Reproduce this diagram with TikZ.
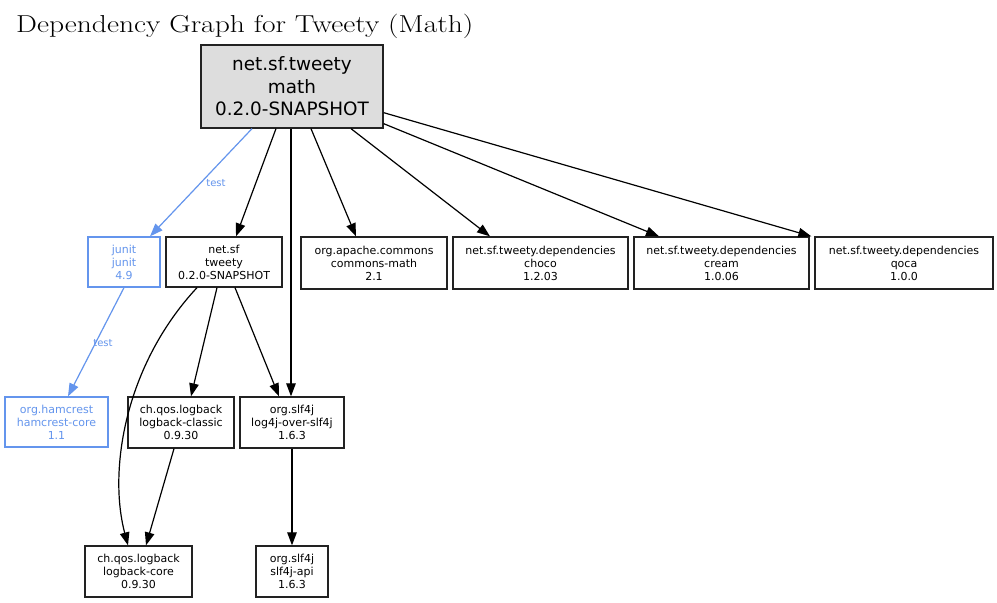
\documentclass[tikz,border=0pt]{standalone}
\usepackage{fontspec}
\setsansfont{DejaVu Sans}
\usetikzlibrary{arrows.meta}
\definecolor{testblue}{HTML}{6495ED}
\definecolor{rootfill}{HTML}{DDDDDD}
\definecolor{linegray}{HTML}{222222}
\tikzset{
  dep/.style={draw=linegray, line width=1.3pt, inner sep=0pt, align=center,
    font=\sffamily\fontsize{11}{13}\selectfont},
  testdep/.style={dep, draw=testblue, text=testblue},
  rootbox/.style={dep, fill=rootfill, font=\sffamily\fontsize{18.4}{22.5}\selectfont},
  edge/.style={line width=1.2pt, draw=black, -{Triangle[length=13pt,width=9.5pt]}},
  testedge/.style={edge, draw=testblue, color=testblue},
  elabel/.style={text=testblue, font=\sffamily\fontsize{10}{12}\selectfont, inner sep=1pt}
}
\begin{document}
\begin{tikzpicture}[x=1pt,y=-1pt]
\path[use as bounding box, fill=white] (0,0) rectangle (997,603);
\node[anchor=base west, inner sep=0pt, font=\fontsize{24.5}{28}\selectfont] (title) at (16,32) {\scalebox{1.205}[1]{Dependency Graph for Tweety (Math)}};

\node[rootbox, minimum width=182pt, minimum height=83pt] (root) at (292,86.5) {net.sf.tweety\\math\\0.2.0-SNAPSHOT};

\node[testdep, minimum width=72pt, minimum height=50pt] (junit) at (124,262) {junit\\junit\\4.9};
\node[dep, minimum width=116pt, minimum height=50pt] (tweety) at (224,262) {net.sf\\tweety\\0.2.0-SNAPSHOT};
\node[dep, minimum width=146pt, minimum height=52pt] (commons) at (374,263) {org.apache.commons\\commons-math\\2.1};
\node[dep, minimum width=175pt, minimum height=52pt] (choco) at (540.5,263) {net.sf.tweety.dependencies\\choco\\1.2.03};
\node[dep, minimum width=175pt, minimum height=52pt] (cream) at (721.5,263) {net.sf.tweety.dependencies\\cream\\1.0.06};
\node[dep, minimum width=178pt, minimum height=52pt] (qoca) at (904,263) {net.sf.tweety.dependencies\\qoca\\1.0.0};

\node[testdep, minimum width=103pt, minimum height=50pt] (hamcrest) at (56.5,422) {org.hamcrest\\hamcrest-core\\1.1};
\node[dep, minimum width=106pt, minimum height=51pt] (classic) at (181,422.5) {ch.qos.logback\\logback-classic\\0.9.30};
\node[dep, minimum width=104pt, minimum height=51pt] (log4j) at (292,422.5) {org.slf4j\\log4j-over-slf4j\\1.6.3};

\node[dep, minimum width=107pt, minimum height=51pt] (core) at (138.5,571.5) {ch.qos.logback\\logback-core\\0.9.30};
\node[dep, minimum width=72pt, minimum height=51pt] (api) at (292,571.5) {org.slf4j\\slf4j-api\\1.6.3};

% edges from root
\draw[testedge] ([xshift=-40pt]root.south) -- node[elabel, pos=0.5, xshift=15pt, yshift=-1pt] (t1) {test} ([xshift=26pt]junit.north);
\draw[edge] ([xshift=-16pt]root.south) -- ([xshift=12pt]tweety.north);
\draw[edge] ([xshift=-1pt]root.south) -- ([xshift=-1pt]log4j.north);
\draw[edge] ([xshift=19pt]root.south) -- ([xshift=-18pt]commons.north);
\draw[edge] ([xshift=59pt]root.south) -- ([xshift=-50.5pt]choco.north);
\draw[edge] ([yshift=5pt]root.south east) -- ([xshift=-62.5pt]cream.north);
\draw[edge] ([yshift=16pt]root.south east) -- ([xshift=-3pt]qoca.north west);

% second level
\draw[testedge] (junit.south) -- node[elabel, pos=0.5, xshift=7pt, yshift=-1pt] (t2) {test} ([xshift=11.5pt]hamcrest.north);
\draw[edge] ([xshift=-7pt]tweety.south) -- ([xshift=10pt]classic.north);
\draw[edge] ([xshift=11pt]tweety.south) -- ([xshift=-13pt]log4j.north);
\draw[edge] ([xshift=-27pt]tweety.south) .. controls (125,365) and (108,470) .. ([xshift=-10.5pt]core.north);
\draw[edge] ([xshift=-7pt]classic.south) -- ([xshift=7.5pt]core.north);
\draw[edge] (log4j.south) -- (api.north);
\end{tikzpicture}
\end{document}
